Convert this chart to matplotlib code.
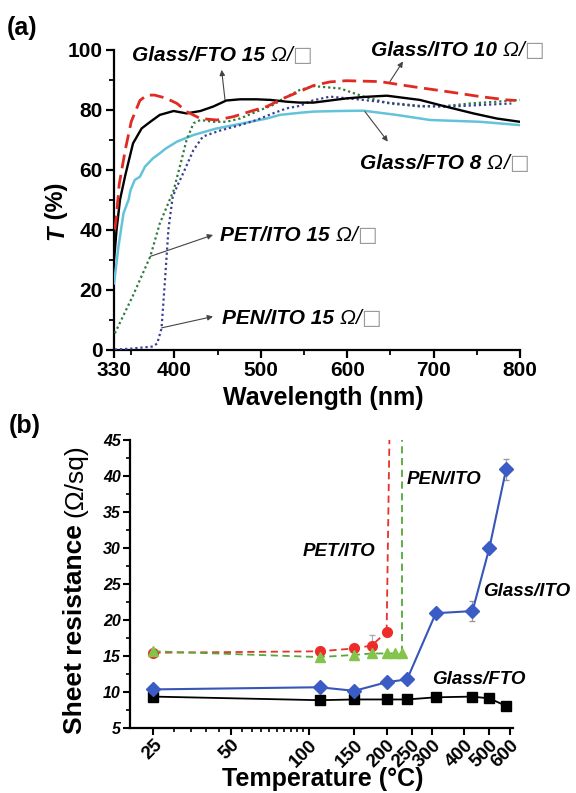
import matplotlib
matplotlib.use("Agg")
import matplotlib.pyplot as plt
from matplotlib.ticker import FixedLocator, NullFormatter

plt.rcParams['font.family'] = ['Liberation Sans', 'DejaVu Sans']

# ---------------- data: panel (a) transmittance ----------------
fto15_wl = [330, 331, 333, 337, 343, 352, 362, 372, 383, 399, 414, 430, 445, 460, 476, 495, 511,
            530, 545, 561, 599, 620, 646, 684, 715, 746, 773, 800]
fto15_T = [30, 33, 40, 50, 58, 68.7, 73.7, 75.9, 78.2, 79.5, 78.7, 79.5, 81, 83, 83.4, 83.4, 83.2,
           82.6, 82.3, 82.3, 83.7, 84.2, 84.6, 83.2, 80.9, 78.7, 77, 75.9]

ito10_wl = [331, 333, 336, 343, 350, 360, 368, 377, 390, 403, 414, 430, 449, 468, 487, 507, 526,
            545, 561, 580, 599, 638, 676, 715, 754, 785, 795]
ito10_T = [40, 45, 55, 66.5, 76, 83, 84.8, 84.8, 83.8, 82, 79.3, 77, 76.5, 77.6, 79.3, 81, 83.7,
           86, 88, 89.2, 89.6, 89.3, 87.6, 86, 84.3, 83.2, 83]

fto8_wl = [330, 331, 335, 341, 347, 349, 354, 360, 366, 375, 383, 390, 403, 422, 449, 476, 507,
           522, 545, 561, 590, 619, 657, 696, 754, 800]
fto8_T = [22, 24.3, 34, 45.4, 50, 53, 56.5, 57.6, 61, 63.7, 65.4, 67, 69.3, 71.5, 73.7, 75.2, 77,
          78.2, 78.9, 79.3, 79.5, 79.6, 78.2, 76.5, 75.9, 74.8]

pet_wl = [331, 352, 372, 383, 399, 408, 414, 422, 430, 445, 460, 476, 495, 514, 530, 545, 561,
          592, 619, 649, 684, 715, 742, 773, 800]
pet_T = [5.4, 18, 31, 42, 53, 63, 69.8, 75.4, 76.5, 75.9, 75.9, 77, 79.3, 81.5, 84.3, 86.5, 87.8,
         87, 84.3, 82, 81, 81.2, 82, 82.6, 83.2]

pen_wl = [331, 350, 375, 380, 385, 389, 393, 398, 404, 410, 422, 433, 453, 476, 495, 514, 530,
          545, 560, 580, 618, 646, 684, 715, 754, 790]
pen_T = [0, 0.3, 1, 2, 7, 23, 40, 51, 55, 58.7, 66.5, 71, 73, 74.8, 76.5, 78.7, 80.4, 81.2, 83,
         84.3, 83.2, 82.3, 81.2, 80.9, 81.5, 82]

a_xticks = [330, 400, 500, 600, 700, 800]
a_xminor = [350, 450, 550, 650, 750]
a_yticks = [0, 20, 40, 60, 80, 100]
a_yminor = [10, 30, 50, 70, 90]

# ---------------- data: panel (b) sheet resistance ----------------
glass_T = [25, 110, 150, 200, 240, 310, 430, 500, 580]
glass_fto_R = [9.3, 8.8, 8.9, 8.9, 8.9, 9.2, 9.3, 9.05, 8.0]
glass_ito_R = [10.3, 10.6, 10.1, 11.3, 11.7, 20.9, 21.2, 30.0, 40.9]
glass_ito_err = [0.2, 0.2, 0.2, 0.2, 0.2, 0.3, 1.45, 0.3, 1.5]

pet_temp = [25, 110, 150, 175, 200]
pet_R = [15.4, 15.6, 16.0, 16.4, 18.3]
pet_err = [0.2, 0.2, 0.2, 1.5, 0.2]
pet_fail_T = [200, 205]
pet_fail_R = [18.3, 45]

pen_temp = [25, 110, 150, 175, 200, 215, 230]
pen_R = [15.6, 14.8, 15.1, 15.3, 15.3, 15.3, 15.3]
pen_fail_T = [230, 230]
pen_fail_R = [15.3, 45]

b_xticks = [25, 50, 100, 150, 200, 250, 300, 400, 500, 600]
b_xminor = [30, 35, 40, 45, 55, 60, 65, 70, 75, 80, 85, 90, 95]
b_yticks = [5, 10, 15, 20, 25, 30, 35, 40, 45]
b_yminor = [7.5, 12.5, 17.5, 22.5, 27.5, 32.5, 37.5, 42.5]

# ---------------- figure ----------------
W, H = 576, 793
fig = plt.figure(figsize=(W / 100, H / 100), dpi=100)
fig.patch.set_facecolor('white')


def fx(px):
    return px / W


def fy(py):
    return 1 - py / H


ax1 = fig.add_axes([fx(114), fy(349.5), (520 - 114) / W, (349.5 - 49.5) / H])
ax2 = fig.add_axes([fx(130), fy(727.5), (513 - 130) / W, (727.5 - 440) / H])

for ax in (ax1, ax2):
    ax.spines['top'].set_visible(False)
    ax.spines['right'].set_visible(False)
    for s in ('left', 'bottom'):
        ax.spines[s].set_linewidth(1.6)

# ---- panel a ----
ax1.plot(fto15_wl, fto15_T, color='black', lw=1.7, zorder=4)
ax1.plot(fto8_wl, fto8_T, color='#63c3da', lw=1.8, zorder=3)
ax1.plot(ito10_wl, ito10_T, color='#e02a22', lw=2.0, dashes=(5, 2.4), zorder=5)
ax1.plot(pet_wl, pet_T, color='#2f7a3c', lw=1.6, dashes=(1, 1.3), zorder=3)
ax1.plot(pen_wl, pen_T, color='#3b3f93', lw=1.6, dashes=(1, 1.3), zorder=3)

ax1.set_xlim(330, 800)
ax1.set_ylim(0, 100)
ax1.xaxis.set_major_locator(FixedLocator(a_xticks))
ax1.xaxis.set_minor_locator(FixedLocator(a_xminor))
ax1.yaxis.set_major_locator(FixedLocator(a_yticks))
ax1.yaxis.set_minor_locator(FixedLocator(a_yminor))
ax1.tick_params(which='major', direction='out', length=6, width=1.6, labelsize=15, pad=2)
ax1.tick_params(which='minor', direction='out', length=3.5, width=1.3)
for lab in ax1.get_xticklabels() + ax1.get_yticklabels():
    lab.set_fontweight('bold')

arrow_kw = dict(arrowstyle='-|>', color='#444444', lw=0.8, mutation_scale=8, shrinkA=0, shrinkB=0)
ax1.annotate('', xy=(454.6, 93.2), xytext=(458.5, 83.2), arrowprops=arrow_kw)
ax1.annotate('', xy=(664.5, 96), xytext=(649.4, 89.3), arrowprops=arrow_kw)
ax1.annotate('', xy=(647, 69.3), xytext=(620.5, 79.3), arrowprops=arrow_kw)
ax1.annotate('', xy=(444.6, 38.2), xytext=(371.7, 31), arrowprops=arrow_kw)
ax1.annotate('', xy=(444.6, 11), xytext=(385, 7.2), arrowprops=arrow_kw)

# ---- panel b ----
ax2.set_xscale('log')
ax2.plot(pet_fail_T, pet_fail_R, color='#e8312a', lw=1.3, dashes=(4, 2.5), zorder=2)
ax2.plot(pen_fail_T, pen_fail_R, color='#55a83c', lw=1.3, dashes=(4, 2.5), zorder=2)
ax2.errorbar(pet_temp, pet_R, yerr=pet_err, color='#e8312a', lw=1.3, dashes=(4, 2.5), marker='o',
             ms=7, mfc='#f02a2a', mec='#e8312a', ecolor='#aaaaaa', elinewidth=0.8, capsize=2.5, zorder=3)
ax2.errorbar(pen_temp, pen_R, color='#55a83c', lw=1.3, dashes=(4, 2.5), marker='^',
             ms=7.5, mfc='#84c44a', mec='#84c44a', zorder=4)
ax2.errorbar(glass_T, glass_fto_R, color='black', lw=1.3, marker='s', ms=6.5, mfc='black',
             mec='black', zorder=3)
ax2.errorbar(glass_T, glass_ito_R, yerr=glass_ito_err, color='#3656b8', lw=1.5, marker='D', ms=7,
             mfc='#3a5cc4', mec='#3a5cc4', ecolor='#999999', elinewidth=0.8, capsize=2.5, zorder=5)

ax2.set_xlim(20.3, 617)
ax2.set_ylim(5, 45)
ax2.xaxis.set_major_locator(FixedLocator(b_xticks))
ax2.xaxis.set_minor_locator(FixedLocator(b_xminor))
ax2.xaxis.set_minor_formatter(NullFormatter())
ax2.set_xticklabels([str(t) for t in b_xticks])
ax2.yaxis.set_major_locator(FixedLocator(b_yticks))
ax2.yaxis.set_minor_locator(FixedLocator(b_yminor))
ax2.tick_params(which='major', direction='out', length=5, width=1.5, pad=1.5)
ax2.tick_params(which='minor', direction='out', length=3, width=1.2)
for lab in ax2.get_yticklabels():
    lab.set_fontweight('bold')
    lab.set_fontstyle('italic')
    lab.set_fontsize(11.5)
for lab in ax2.get_xticklabels():
    lab.set_fontweight('bold')
    lab.set_fontsize(13.5)
    lab.set_rotation(45)
    lab.set_ha('right')
    lab.set_va('top')
    lab.set_rotation_mode('anchor')

# ---------------- texts ----------------
renderer = fig.canvas.get_renderer()


def chain_h(x_px, base_px, pieces, size):
    x = x_px
    for s, kw in pieces:
        t = fig.text(x / W, fy(base_px), s, ha='left', va='baseline', fontsize=size, **kw)
        x = t.get_window_extent(renderer).x1


def chain_v(base_x_px, start_y_px, pieces, size):
    y = H - start_y_px
    for s, kw in pieces:
        t = fig.text(base_x_px / W, y / H, s, ha='left', va='baseline', rotation=90,
                     rotation_mode='anchor', fontsize=size, **kw)
        y = t.get_window_extent(renderer).y1


BI = dict(fontweight='bold', fontstyle='italic')
OHM = dict(fontweight='normal', fontstyle='italic')
BOX = dict(color='#9a9a9a', family=['DejaVu Sans'], fontweight='normal')


def res_label(x, base, name, size=15):
    chain_h(x, base, [(name + ' ', BI), ('\u03a9', OHM), ('/', OHM),
                      ('\u25a1', BOX)], size)


res_label(132, 61, 'Glass/FTO 15')
res_label(371, 56, 'Glass/ITO 10')
res_label(360, 169, 'Glass/FTO 8')
res_label(220, 241, 'PET/ITO 15')
res_label(222, 324, 'PEN/ITO 15')

fig.text(fx(407), fy(479), 'PEN/ITO', ha='left', va='center', fontsize=13.5, **BI)
fig.text(fx(303), fy(552), 'PET/ITO', ha='left', va='center', fontsize=13.5, **BI)
fig.text(fx(483), fy(592), 'Glass/ITO', ha='left', va='center', fontsize=13.5, **BI)
fig.text(fx(432), fy(680), 'Glass/FTO', ha='left', va='center', fontsize=13.5, **BI)

fig.text(fx(7), fy(28), '(a)', ha='left', va='center', fontsize=18, fontweight='bold')
fig.text(fx(9), fy(426), '(b)', ha='left', va='center', fontsize=18, fontweight='bold')

fig.text(fx(323), fy(398), 'Wavelength (nm)', ha='center', va='center', fontsize=18, fontweight='bold')
fig.text(fx(323), fy(779), 'Temperature (\u00b0C)', ha='center', va='center', fontsize=18,
         fontweight='bold')

chain_v(63, 240, [('T', BI), (' (%)', dict(fontweight='bold'))], 17)
chain_v(82, 734, [('Sheet resistance ', dict(fontweight='bold')), ('(\u03a9/sq)', dict(fontweight='normal'))], 19)

fig.savefig('out.png', dpi=100, facecolor='white')
